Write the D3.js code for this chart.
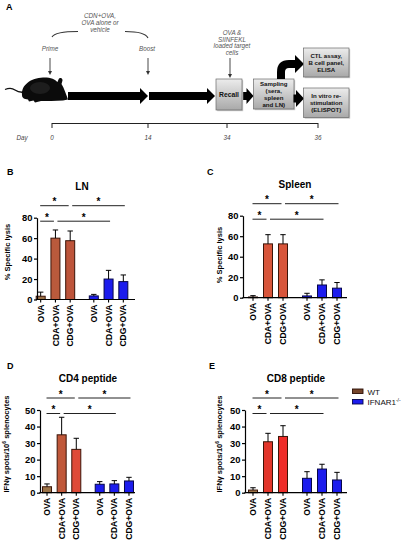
<!DOCTYPE html>
<html>
<head>
<meta charset="utf-8">
<script src="https://cdn.jsdelivr.net/npm/d3@7"></script>
<style>
  body { margin: 0; background: #fff; }
  text { font-family: Arial, "Liberation Sans", sans-serif; }
</style>
</head>
<body>
<div id="fig"></div>
<script>
// ---- data ----
var treatments = ["OVA", "CDA+OVA", "CDG+OVA"];
var genotypes = ["WT", "IFNAR1"];

// order: WT OVA, WT CDA, WT CDG, IFNAR OVA, IFNAR CDA, IFNAR CDG
var lnMean = [3.2, 60, 57.5, 3.5, 20, 17.5];
var lnErr = [4, 8, 9.5, 1.5, 8.5, 6.5];
var spleenMean = [0.7, 52.5, 52.5, 1.7, 12.4, 9.3];
var spleenErr = [1.3, 9, 9, 2.6, 5, 5.5];
var cd4Mean = [3.6, 35, 26.2, 5.1, 5.3, 7.1];
var cd4Err = [1.7, 10.6, 6.7, 1.6, 2, 2.2];
var cd8Mean = [1.6, 30.8, 34, 8.7, 14.3, 7.7];
var cd8Err = [1.4, 5.1, 6.5, 4, 2.9, 4.6];

var lysisTicks = [0, 20, 40, 60, 80];
var spotTicks = [0, 10, 20, 30, 40, 50];

// significance brackets (bar index pairs), row 0 = upper line
var sigFrom = [0, 2, 0, 1];
var sigTo = [2, 5, 1, 4];
var sigRow = [0, 0, 1, 1];

var timelineDays = [0, 14, 34, 36];

// ---- styles ----
var koFill = "#1c1ced";

var svg = d3.select("#fig")
  .append("svg")
  .attr("width", 406)
  .attr("height", 550);

svg.append("rect").attr("width", 406).attr("height", 550).attr("fill", "#fff");

// gradient for the flow boxes
var defs = svg.append("defs");
var grad = defs.append("linearGradient").attr("id", "boxGrad")
  .attr("x1", 0).attr("y1", 0).attr("x2", 0).attr("y2", 1);
grad.append("stop").attr("offset", "0%").attr("stop-color", "#ececec");
grad.append("stop").attr("offset", "100%").attr("stop-color", "#a9a9a9");

function panelLetter(t, x, y) {
  svg.append("text").attr("x", x).attr("y", y)
    .attr("font-size", 9).attr("font-weight", "bold").text(t);
}

// =========================== Panel A ===========================
panelLetter("A", 6, 10);

var A = svg.append("g");

function italicText(lines, cx, y0, dy) {
  lines.forEach(function(s, i) {
    A.append("text").attr("x", cx).attr("y", y0 + i * dy)
      .attr("text-anchor", "middle").attr("font-size", 6.3)
      .attr("font-style", "italic").attr("fill", "#555").text(s);
  });
}

function downArrow(x, y1, y2) {
  A.append("line").attr("x1", x).attr("x2", x).attr("y1", y1).attr("y2", y2 - 3)
    .attr("stroke", "#333").attr("stroke-width", 0.9);
  A.append("path").attr("d", `M${x - 2},${y2 - 4} L${x},${y2} L${x + 2},${y2 - 4} Z`)
    .attr("fill", "#333");
}

function thickArrow(x1, x2, yc, body, head, headW) {
  var b = body / 2, h = head / 2, xh = x2 - headW;
  A.append("path")
    .attr("d", `M${x1},${yc - b} L${xh},${yc - b} L${xh},${yc - h} L${x2},${yc} L${xh},${yc + h} L${xh},${yc + b} L${x1},${yc + b} Z`)
    .attr("fill", "#000");
}

function flowBox(x, y, w, h, lines, fs, dy) {
  A.append("rect").attr("x", x + 1.2).attr("y", y + 1.2).attr("width", w).attr("height", h)
    .attr("fill", "#c8c8c8");
  A.append("rect").attr("x", x).attr("y", y).attr("width", w).attr("height", h)
    .attr("fill", "url(#boxGrad)").attr("stroke", "#6a6a6a").attr("stroke-width", 0.7);
  var top = y + h / 2 - (lines.length - 1) * dy / 2 + fs * 0.36;
  lines.forEach(function(s, i) {
    A.append("text").attr("x", x + w / 2).attr("y", top + i * dy)
      .attr("text-anchor", "middle").attr("font-size", fs)
      .attr("font-weight", "bold").attr("fill", "#111").text(s);
  });
}

italicText(["CDN+OVA,", "OVA alone or", "vehicle"], 100, 18, 7);
A.append("path").attr("d", "M52,37 Q55,31.5 78,31.5").attr("fill", "none")
  .attr("stroke", "#333").attr("stroke-width", 1.1);
A.append("path").attr("d", "M125,31.5 Q145,31.5 148,38").attr("fill", "none")
  .attr("stroke", "#333").attr("stroke-width", 1.1);

italicText(["Prime"], 50, 50.5, 0);
italicText(["Boost"], 147, 50.5, 0);
italicText(["OVA &", "SIINFEKL", "loaded target", "cells"], 232, 35, 6.6);

downArrow(50, 58, 75);
downArrow(148, 58, 75);
downArrow(230, 58, 78);

// mouse silhouette
A.append("path")
  .attr("d", "M5,89.5 Q11,87 15,90 Q19,93 25,92")
  .attr("fill", "none").attr("stroke", "#111").attr("stroke-width", 1.3);
A.append("path")
  .attr("d", "M22,95 C21,85 31,78 43,77.5 C51,77.3 55,79.5 57.5,82 L58.5,79.5 C59.5,77.5 62.5,77.5 62.5,80.5 L61.5,84 C64,88 66,94 68,99.5 L63,100.5 C55,101 47,101 41,101 L35,102.5 L33.5,100.5 L29,101.5 L28,99.5 C24,99 22,98 22,95 Z")
  .attr("fill", "#0b0b0b");
A.append("ellipse").attr("cx", 40).attr("cy", 88).attr("rx", 10).attr("ry", 6)
  .attr("fill", "#2a2a2a").attr("opacity", 0.6);

thickArrow(68, 148, 96, 8, 16, 8);
thickArrow(149, 215, 96, 8, 16, 8);
thickArrow(242.5, 253.5, 96, 8, 16, 7);

flowBox(216, 79, 26, 31, ["Recall"], 6.8, 7);
flowBox(253.5, 79, 40.5, 30, ["Sampling", "(sera,", "spleen", "and LN)"], 6.1, 7);

// curved arrow to the upper box
A.append("path").attr("d", "M281,79 L281,72 Q281,64 289,64 L296,64")
  .attr("fill", "none").attr("stroke", "#000").attr("stroke-width", 8);
A.append("path").attr("d", "M295,55 L304,64 L295,73 Z").attr("fill", "#000");
thickArrow(293.5, 304, 98.5, 8, 17, 8);

flowBox(303.5, 48, 45.5, 29, ["CTL assay,", "B cell panel,", "ELISA"], 6.1, 7);
flowBox(303.5, 88, 45.5, 29.5, ["In vitro re-", "stimulation", "(ELISPOT)"], 6.1, 7.3);

// day timeline
var dayX = d3.scaleLinear().domain(timelineDays).range([52, 148, 227, 318]);
A.append("line").attr("x1", dayX(0)).attr("x2", dayX(36)).attr("y1", 123.5).attr("y2", 123.5)
  .attr("stroke", "#222").attr("stroke-width", 1);
A.selectAll(".dtick").data(timelineDays).enter().append("line")
  .attr("x1", d => dayX(d)).attr("x2", d => dayX(d))
  .attr("y1", 123).attr("y2", 128)
  .attr("stroke", "#222").attr("stroke-width", 1);
A.selectAll(".dlab").data(timelineDays).enter().append("text")
  .attr("x", d => dayX(d)).attr("y", 139.5)
  .attr("text-anchor", "middle").attr("font-size", 6.3).attr("font-style", "italic")
  .attr("fill", "#444").text(d => d);
A.append("text").attr("x", 22).attr("y", 139.5).attr("text-anchor", "middle")
  .attr("font-size", 6.3).attr("font-style", "italic").attr("fill", "#444").text("Day");

// =========================== Bar panels ===========================
function barPanel(p) {
  var g = svg.append("g");

  var xGroup = d3.scaleBand().domain(genotypes).range(p.xRange).paddingInner(1 / 6).paddingOuter(0);
  var xInner = d3.scaleBand().domain(treatments).range([0, xGroup.bandwidth()]);
  var y = d3.scaleLinear().domain([0, d3.max(p.ticks)]).range([p.y0, p.yTop]);

  var rows = p.means.map(function(m, i) {
    return {
      i: i, mean: m, err: p.errs[i],
      geno: genotypes[Math.floor(i / 3)],
      treat: treatments[i % 3]
    };
  });
  var cx = function(d) { return xGroup(d.geno) + xInner(d.treat) + xInner.bandwidth() / 2; };
  var bw = 9;

  // title
  g.append("text").attr("x", p.titleX).attr("y", p.titleY)
    .attr("text-anchor", "middle").attr("font-size", 10).attr("font-weight", "bold")
    .text(p.title);

  // bars
  g.selectAll(".bar").data(rows).enter().append("rect")
    .attr("x", d => cx(d) - bw / 2)
    .attr("y", d => y(d.mean))
    .attr("width", bw)
    .attr("height", d => y(0) - y(d.mean))
    .attr("fill", d => d.geno === "WT" ? p.wtFill[d.i % 3] : koFill)
    .attr("stroke", d => d.geno === "WT" ? "#3b1408" : "#07074a")
    .attr("stroke-width", 1);

  // error bars (upper only)
  g.selectAll(".err").data(rows).enter().append("path")
    .attr("d", d => `M${cx(d)},${y(d.mean)} V${y(d.mean + d.err)} M${cx(d) - 2.7},${y(d.mean + d.err)} H${cx(d) + 2.7}`)
    .attr("fill", "none").attr("stroke", "#000").attr("stroke-width", 1);

  // y axis
  var yAxis = g.append("g")
    .attr("transform", `translate(${p.axisX},0)`)
    .call(d3.axisLeft(y).tickValues(p.ticks).tickSize(3).tickSizeOuter(0).tickPadding(1.5));
  yAxis.select(".domain").attr("stroke", "#000").attr("stroke-width", 1.2);
  yAxis.selectAll(".tick line").attr("stroke", "#000").attr("stroke-width", 1.2);
  yAxis.selectAll(".tick text")
    .attr("font-family", "Arial, 'Liberation Sans', sans-serif")
    .attr("font-size", 9.4).attr("font-weight", "bold").attr("fill", "#000");

  // x axis
  g.append("line").attr("x1", p.axisX - 0.6).attr("x2", p.xEnd)
    .attr("y1", y(0)).attr("y2", y(0)).attr("stroke", "#000").attr("stroke-width", 1.2);
  g.selectAll(".xtick").data(rows).enter().append("line")
    .attr("x1", d => cx(d)).attr("x2", d => cx(d))
    .attr("y1", y(0)).attr("y2", y(0) + 3)
    .attr("stroke", "#000").attr("stroke-width", 1.1);
  g.selectAll(".xlab").data(rows).enter().append("text")
    .attr("transform", d => `translate(${cx(d)},${y(0) + 5}) rotate(-90)`)
    .attr("dy", "0.36em")
    .attr("text-anchor", "end")
    .attr("font-size", 8.6).attr("font-weight", "bold")
    .text(d => d.treat);

  // y axis title
  var yl = g.append("text")
    .attr("transform", `translate(${p.ylabX},${p.ylabY}) rotate(-90)`)
    .attr("text-anchor", "middle").attr("font-size", 7.5).attr("font-weight", "bold");
  if (p.spots) {
    yl.append("tspan").text("IFN\u03b3 spots/10");
    yl.append("tspan").attr("font-size", 5).attr("dy", -3).text("6");
    yl.append("tspan").attr("dy", 3).text(" splenocytes");
  } else {
    yl.text(p.ylab);
  }

  // significance brackets
  var rowY = [y(d3.max(p.ticks)) - 12, y(d3.max(p.ticks)) + 3.5];
  sigFrom.forEach(function(f, k) {
    var xa = cx(rows[f]) + (k % 2 === 0 ? -0.5 : 2);
    var xb = cx(rows[sigTo[k]]) + (k % 2 === 0 ? -1.5 : 1.5);
    var yy = rowY[sigRow[k]];
    g.append("line").attr("x1", xa).attr("x2", xb).attr("y1", yy).attr("y2", yy)
      .attr("stroke", "#222").attr("stroke-width", 1);
    g.append("text").attr("x", (xa + xb) / 2).attr("y", yy - 0.3)
      .attr("text-anchor", "middle").attr("font-size", 10).attr("font-weight", "bold")
      .text("*");
  });
}

panelLetter("B", 7, 174.5);
barPanel({
  title: "LN", titleX: 82, titleY: 189.5,
  means: lnMean, errs: lnErr, ticks: lysisTicks,
  xRange: [33.3, 130.7], axisX: 37, xEnd: 135,
  y0: 299.5, yTop: 217.7,
  ylab: "% Specific lysis", ylabX: 10, ylabY: 252,
  wtFill: ["#9a7046", "#b95a3c", "#bd543a"]
});

panelLetter("C", 207, 174.5);
barPanel({
  title: "Spleen", titleX: 295, titleY: 187.5,
  means: spleenMean, errs: spleenErr, ticks: lysisTicks,
  xRange: [245.5, 344.5], axisX: 243, xEnd: 347,
  y0: 297.7, yTop: 215.7,
  ylab: "% Specific lysis", ylabX: 222, ylabY: 255,
  wtFill: ["#9a7046", "#d8553a", "#d8553a"]
});

panelLetter("D", 7, 368.5);
barPanel({
  title: "CD4 peptide", titleX: 88, titleY: 382,
  means: cd4Mean, errs: cd4Err, ticks: spotTicks,
  xRange: [39.7, 136.3], axisX: 40, xEnd: 135,
  y0: 492.7, yTop: 410,
  spots: true, ylabX: 9, ylabY: 444,
  wtFill: ["#9c7448", "#c0583a", "#de4a38"]
});

panelLetter("E", 209, 368.5);
barPanel({
  title: "CD8 peptide", titleX: 296, titleY: 382,
  means: cd8Mean, errs: cd8Err, ticks: spotTicks,
  xRange: [245.5, 344.5], axisX: 245, xEnd: 347,
  y0: 492.7, yTop: 410,
  spots: true, ylabX: 222, ylabY: 444,
  wtFill: ["#9c7448", "#e2352a", "#ee2c28"]
});

// legend
var legendFill = ["#74442a", koFill];
var legendStroke = ["#2a0e05", "#07074a"];
var lg = svg.append("g");
lg.selectAll(".sw").data(genotypes).enter().append("rect")
  .attr("x", 352.5).attr("y", (d, i) => 389 + i * 10.5)
  .attr("width", 10.5).attr("height", 4.5)
  .attr("fill", (d, i) => legendFill[i]).attr("stroke", (d, i) => legendStroke[i]).attr("stroke-width", 0.9);
var lt = lg.selectAll(".lt").data(genotypes).enter().append("text")
  .attr("x", 367.5).attr("y", (d, i) => 394.5 + i * 10.5)
  .attr("font-size", 8).attr("fill", "#111");
lt.append("tspan").text(d => d);
lt.filter((d, i) => i === 1).append("tspan").attr("font-size", 5).attr("dy", -3.2).text("-/-");
</script>
</body>
</html>
